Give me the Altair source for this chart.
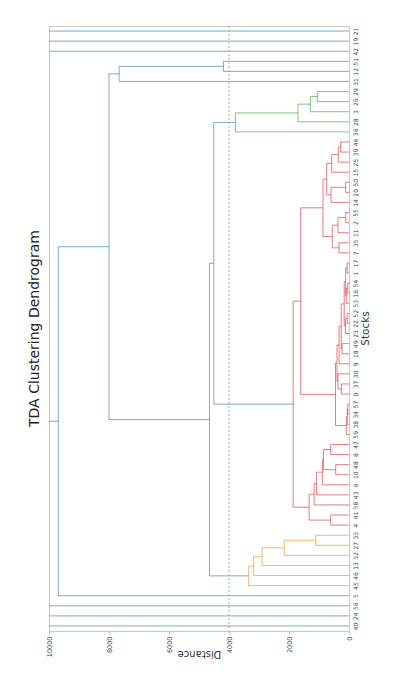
import altair as alt
import pandas as pd

# ---- data -----------------------------------------------------------------
# merge tree: (lower child, upper child, merge distance); leaves are stock ids
def N(a, b, h):
    return (a, b, h)

green_cluster = N(36, N(28, N(3, N(26, 29, 1057), 1290), 1700), 3787)
orange_cluster = N(45, N(46, N(13, N(32, N(27, 33, 1107), 2159), 2901), 3178), 3344)
red_part_a = N(N(4, 41, 609),
               N(58, N(43, N(6, N(N(10, 48, 443), N(8, 47, 609), 853), 886), 1085), 1163),
               1329)
red_part_b2 = N(N(59, N(38, N(34, 57, 40), 60), 90),
                N(N(N(0, 37, 257), 30, 367),
                  N(9, N(N(18, 49, 230),
                         N(N(23, N(22, 52, 60), 120),
                           N(N(53, N(16, 54, 40), 90), N(1, 17, 60), 110), 160), 260), 330),
                  400),
                450)
red_part_b1 = N(N(N(7, 35, 333), N(11, N(2, 55, 110), 367), 557),
                N(N(14, N(20, 50, 110), 600), N(15, N(25, N(39, 44, 277), 357), 577), 743),
                867)
red_cluster = N(red_part_a, N(red_part_b2, red_part_b1, 1610), 1860)
main_cluster = N(N(orange_cluster, N(red_cluster, green_cluster, 4507), 4651),
                 N(31, N(12, 51, 4186), 7663), 8000)
root = N(N(40, N(24, N(56, N(5, main_cluster, 9690), 10200), 10500), 10800),
         N(42, N(19, 21, 11500), 11200), 12000)

threshold = 4000
above_color = "#1f77b4"
cluster_colors = {45: "#ff7f0e", 4: "#d62728", 36: "#2ca02c"}  # keyed by first leaf
distance_ticks = [0, 2000, 4000, 6000, 8000, 10000]

# ---- build link segments --------------------------------------------------
order = []
rows = []


def first_leaf(n):
    return n if isinstance(n, int) else first_leaf(n[0])


def walk(n, color=None):
    if isinstance(n, int):
        pos = 5 + 10 * len(order)
        order.append(n)
        return pos, 0
    a, b, h = n
    if h < threshold and color is None:
        color = cluster_colors[first_leaf(n)]
    c = color if h < threshold else above_color
    child_color = color if h < threshold else None
    pa, ha = walk(a, child_color)
    pb, hb = walk(b, child_color)
    rows.append(dict(d1=h, d2=h, p1=pa, p2=pb, c=c))
    rows.append(dict(d1=ha, d2=h, p1=pa, p2=pa, c=c))
    rows.append(dict(d1=hb, d2=h, p1=pb, p2=pb, c=c))
    return (pa + pb) / 2, h


walk(root)
segs = pd.DataFrame(rows)
positions = [5 + 10 * i for i in range(len(order))]
labels_js = "[" + ",".join(f"'{s}'" for s in order) + "]"

xscale = alt.Scale(domain=[0, 10000], reverse=True, nice=False, zero=False)
yscale = alt.Scale(domain=[0, 10 * len(order)], nice=False, zero=False)

links = alt.Chart(segs).mark_rule(clip=True, strokeWidth=1, opacity=0.6).encode(
    x=alt.X("d1:Q", scale=xscale,
            axis=alt.Axis(title="Distance", values=distance_ticks, format="d",
                          labelAngle=270, labelFontSize=6.5, labelColor="#444",
                          tickSize=3, tickColor="#bbb", domainColor="#c8c8c8",
                          grid=False, titleAngle=180, titleFontSize=10,
                          titleFontWeight="normal", titleColor="#333", titlePadding=2,
                          labelPadding=2, labelFont="DejaVu Sans",
                          titleFont="DejaVu Sans")),
    x2="d2:Q",
    y=alt.Y("p1:Q", scale=yscale,
            axis=alt.Axis(title="Stocks", orient="right", values=positions,
                          labelExpr=f"{labels_js}[round((datum.value - 5) / 10)]",
                          labelAngle=270, labelAlign="center", labelBaseline="top",
                          labelFontSize=6, labelColor="#444", ticks=False,
                          labelPadding=3, domainColor="#c8c8c8", grid=False,
                          titleAngle=270, titleFontSize=10.5, titleFontWeight="normal",
                          titleColor="#333", titleX=21, titleY=302,
                          titleAlign="center", titleBaseline="bottom",
                          labelFont="DejaVu Sans", titleFont="DejaVu Sans")),
    y2="p2:Q",
    color=alt.Color("c:N", scale=None),
)

thr = alt.Chart(pd.DataFrame({"t": [threshold]})).mark_rule(
    strokeDash=[2, 2], color="#999", strokeWidth=0.8).encode(x=alt.X("t:Q", scale=xscale))

chart = (links + thr).properties(
    width=300, height=605,
    title=alt.TitleParams("TDA Clustering Dendrogram", orient="left", angle=270,
                          anchor="middle", fontSize=14, fontWeight="normal",
                          font="DejaVu Sans", color="#222", offset=4),
    padding={"left": 19, "top": 17, "right": 5, "bottom": 5},
).configure_view(stroke="#c8c8c8", strokeWidth=1)

chart.save("out.html", embed_options={"renderer": "svg", "actions": False})
